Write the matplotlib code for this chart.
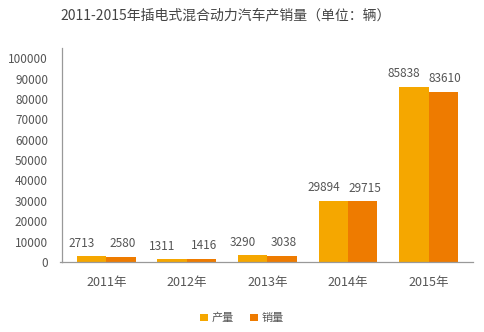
import numpy as np
import matplotlib.pyplot as plt

plt.rcParams['font.family'] = ['Noto Sans CJK SC', 'DejaVu Sans']

# ============================
# ДАННЫЕ
# ============================

years = ['2011年', '2012年', '2013年', '2014年', '2015年']
production = [2713, 1311, 3290, 29894, 85838]
sales = [2580, 1416, 3038, 29715, 83610]
y_ticks = [0, 10000, 20000, 30000, 40000, 50000, 60000, 70000, 80000, 90000, 100000]

title = '2011-2015年插电式混合动力汽车产销量（单位：辆）'
label_prod = '产量'
label_sales = '销量'

color_prod = '#F5A700'
color_sales = '#EE7B00'
text_color = '#555555'

# ============================
# ГРАФИК
# ============================

fig = plt.figure(figsize=(4.84, 3.32), dpi=100)
ax = fig.add_axes([0.128, 0.211, 0.849, 0.644])

x = np.arange(len(years))
w = 0.365

b1 = ax.bar(x - w / 2, production, w, color=color_prod, label=label_prod)
b2 = ax.bar(x + w / 2, sales, w, color=color_sales, label=label_sales)

# подписи значений: левые чуть сдвинуты влево, правые чуть вправо
for bars, vals, dx in [(b1, production, -7), (b2, sales, 1.5)]:
    for rect, v in zip(bars, vals):
        ax.annotate(str(v),
                    (rect.get_x() + rect.get_width() / 2, rect.get_height()),
                    xytext=(dx, 9.5), textcoords='offset points',
                    ha='center', va='center', fontsize=8.5, color=text_color)

ax.set_xlim(-0.55, 4.55)
ax.set_ylim(0, 105000)
ax.set_yticks(y_ticks)
ax.set_yticklabels([str(t) for t in y_ticks])
ax.set_xticks(x)
ax.set_xticklabels(years)

ax.tick_params(axis='y', length=0, pad=10, labelsize=8.5, colors=text_color)
ax.tick_params(axis='x', length=0, pad=10, labelsize=9, colors=text_color)

for s in ['top', 'right']:
    ax.spines[s].set_visible(False)
ax.spines['left'].set_color('#999999')
ax.spines['bottom'].set_color('#999999')
ax.spines['left'].set_linewidth(0.9)
ax.spines['bottom'].set_linewidth(0.9)

# небольшой выступ нулевой линии влево
ax.plot([-0.58, -0.55], [0, 0], color='#999999', lw=0.9, clip_on=False)

fig.text(0.467, 0.955, title, ha='center', va='center',
         fontsize=10, color='#444444')

fig.legend(handles=[b1, b2], loc='center', bbox_to_anchor=(0.5, 0.042),
           ncol=2, frameon=False, fontsize=8, handlelength=0.7,
           handleheight=0.7, handletextpad=0.4, columnspacing=1.4,
           labelcolor=text_color)

plt.savefig('out.png', dpi=100)
